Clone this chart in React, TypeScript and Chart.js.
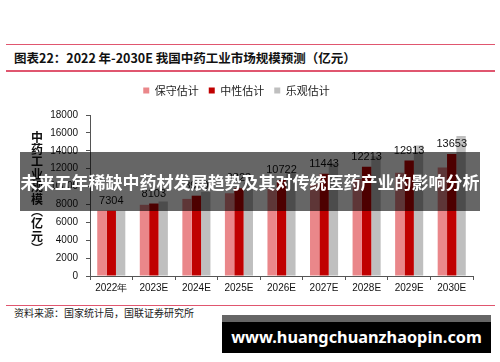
import React, { useEffect, useRef } from "react";
import { Chart, registerables } from "chart.js";

Chart.register(...registerables);

const categories = ["2022年", "2023E", "2024E", "2025E", "2026E", "2027E", "2028E", "2029E", "2030E"];
const conservative = [7304, 7960, 8620, 9250, 9750, 10300, 10850, 11550, 12120];
const neutral = [7304, 8103, 8980, 9823, 10722, 11443, 12213, 12913, 13653];
const optimistic = [7304, 8330, 9400, 10450, 11550, 12600, 13400, 14600, 15650];
const seriesNames = ["保守估计", "中性估计", "乐观估计"];
const seriesColors = ["#EA878A", "#C00000", "#BFBFBF"];
const yTicks = { min: 0, max: 18000, step: 2000 };

const titleText = "图表22：2022 年-2030E 我国中药工业市场规模预测（亿元）";
const yTitle = "中药工业规模（亿元）";
const sourceText = "资料来源：国家统计局，国联证券研究所";
const bannerText = "未来五年稀缺中药材发展趋势及其对传统医药产业的影响分析";
const watermarkText = "www.huangchuanzhaopin.com";

const CJK = '"Noto Sans CJK SC", "Noto Sans", sans-serif';
const LATIN = '"Liberation Sans", Arial, sans-serif';

const labelPlugin = {
  id: "neutralLabels",
  afterDatasetsDraw(chart: any) {
    const ctx = chart.ctx;
    const meta = chart.getDatasetMeta(1);
    ctx.save();
    ctx.font = `11px ${LATIN}`;
    ctx.fillStyle = "#111";
    ctx.textAlign = "center";
    ctx.textBaseline = "alphabetic";
    meta.data.forEach((bar: any, i: number) => {
      ctx.fillText(String(neutral[i]), bar.x, bar.y - 7);
    });
    ctx.restore();
  },
};

const legendHeightPlugin = {
  id: "legendHeight",
  beforeInit(chart: any) {
    const legend = chart.legend;
    if (!legend) return;
    const orig = legend.fit;
    legend.fit = function () {
      orig.call(this);
      this.height = 40;
    };
  },
};

function App() {
  const canvasRef = useRef<HTMLCanvasElement | null>(null);

  useEffect(() => {
    if (!canvasRef.current) return;
    const chart = new Chart(canvasRef.current, {
      type: "bar",
      data: {
        labels: categories,
        datasets: [
          { label: seriesNames[0], data: conservative, backgroundColor: seriesColors[0] },
          { label: seriesNames[1], data: neutral, backgroundColor: seriesColors[1] },
          { label: seriesNames[2], data: optimistic, backgroundColor: seriesColors[2] },
        ],
      },
      options: {
        animation: false,
        responsive: false,
        maintainAspectRatio: false,
        layout: { padding: { left: 0, right: 27, top: 0, bottom: 0 } },
        datasets: {
          bar: { categoryPercentage: 0.66, barPercentage: 1.0 },
        },
        plugins: {
          tooltip: { enabled: false },
          legend: {
            display: true,
            position: "top",
            labels: {
              boxWidth: 6,
              boxHeight: 6,
              padding: 10,
              color: "#222",
              font: { size: 11, family: CJK },
            },
          },
        },
        scales: {
          x: {
            grid: {
              display: true,
              offset: true,
              drawOnChartArea: false,
              drawTicks: true,
              tickLength: 4,
              color: "#555",
            },
            border: { display: true, color: "#555", width: 1 },
            ticks: {
              color: "#111",
              padding: 2,
              font: { size: 10, family: LATIN },
              maxRotation: 0,
            },
            afterFit(scale: any) {
              scale.height = 24;
            },
          },
          y: {
            min: yTicks.min,
            max: yTicks.max,
            grid: {
              display: true,
              drawOnChartArea: false,
              drawTicks: true,
              tickLength: 4,
              color: "#555",
            },
            border: { display: true, color: "#555", width: 1 },
            ticks: {
              stepSize: yTicks.step,
              color: "#111",
              padding: 8,
              font: { size: 10, family: LATIN },
              callback: (v: any) => String(v),
            },
            afterFit(scale: any) {
              scale.width = 90;
            },
          },
        },
      },
      plugins: [labelPlugin, legendHeightPlugin],
    } as any);
    return () => chart.destroy();
  }, []);

  const line = (top: number) => (
    <div style={{ position: "absolute", left: 6, top, width: 489, height: 1.5, background: "#E0566F" }} />
  );

  return (
    <div
      style={{
        position: "absolute",
        left: 0,
        top: 0,
        width: 500,
        height: 362,
        background: "#fff",
        overflow: "hidden",
      }}
    >
      {line(43.5)}
      <div
        style={{
          position: "absolute",
          left: 14,
          top: 49,
          fontFamily: CJK,
          fontWeight: 700,
          fontSize: 12.5,
          lineHeight: "18px",
          color: "#111",
          whiteSpace: "nowrap",
        }}
      >
        {titleText}
      </div>
      {line(70)}
      <canvas
        ref={canvasRef}
        width={500}
        height={225}
        style={{ position: "absolute", left: 0, top: 75, width: 500, height: 225 }}
      />
      <div
        style={{
          position: "absolute",
          left: 30.5,
          top: 131,
          width: 13,
          writingMode: "vertical-rl",
          textOrientation: "upright",
          fontFamily: CJK,
          fontWeight: 700,
          fontSize: 12,
          lineHeight: "13px",
          letterSpacing: "0.4px",
          color: "#111",
          whiteSpace: "nowrap",
        }}
      >
        {yTitle}
      </div>
      {line(304.5)}
      <div
        style={{
          position: "absolute",
          left: 14,
          top: 307,
          fontFamily: CJK,
          fontSize: 10,
          lineHeight: "12px",
          color: "#222",
          whiteSpace: "nowrap",
        }}
      >
        {sourceText}
      </div>
      <div
        style={{
          position: "absolute",
          left: 20,
          top: 152,
          width: 460,
          height: 59,
          background: "rgba(0,0,0,0.6)",
          color: "#fff",
          fontFamily: CJK,
          fontWeight: 700,
          fontSize: 17,
          lineHeight: "59px",
          textAlign: "center",
          whiteSpace: "nowrap",
        }}
      >
        {bannerText}
      </div>
      <div style={{ position: "absolute", left: 222, top: 315, width: 269, height: 7, background: "#666" }} />
      <div
        style={{
          position: "absolute",
          left: 222,
          top: 322,
          width: 269,
          height: 31,
          background: "#000",
          color: "#fff",
          fontFamily: '"Noto Sans", "Open Sans", sans-serif',
          fontWeight: 700,
          fontSize: 16.3,
          lineHeight: "30px",
          textAlign: "center",
          whiteSpace: "nowrap",
        }}
      >
        {watermarkText}
      </div>
    </div>
  );
}

export default App;
